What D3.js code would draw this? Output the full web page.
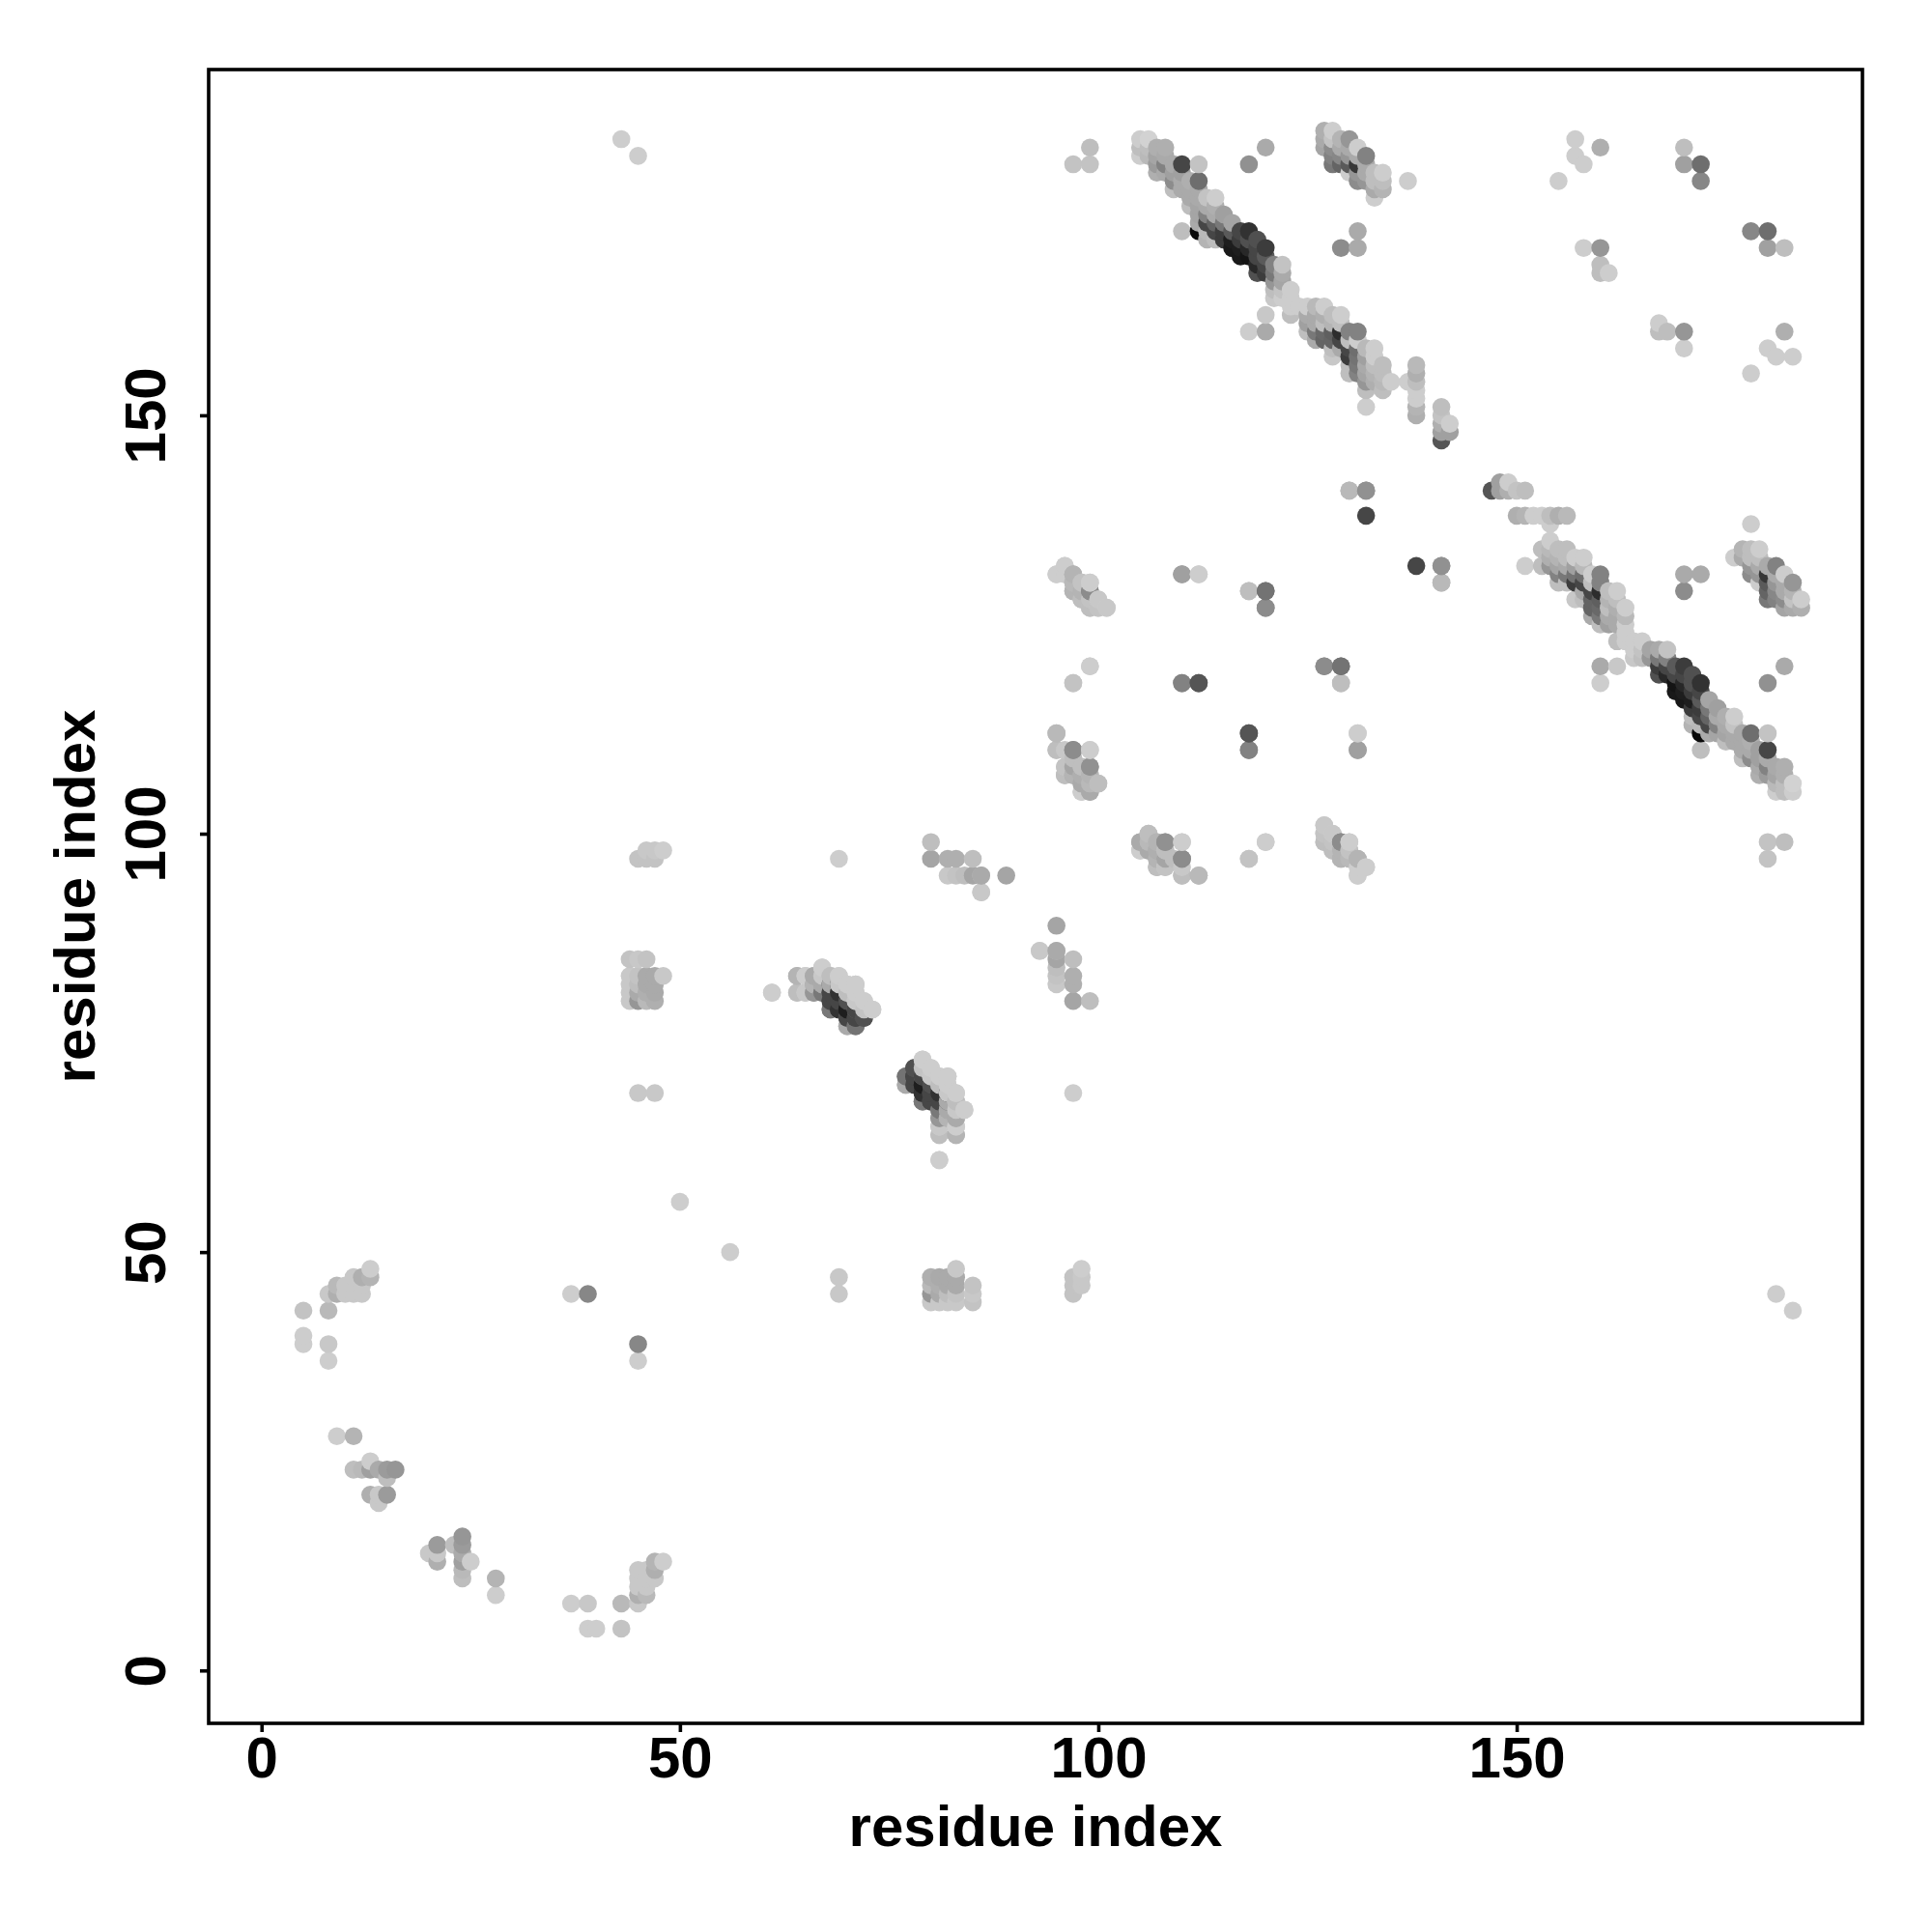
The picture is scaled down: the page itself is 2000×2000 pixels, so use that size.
<!DOCTYPE HTML>
<html>
  <head>
    <meta charset='utf-8'>
    <title>residue contact map</title>
    <script src='https://d3js.org/d3.v7.min.js'></script>
  </head>
  <style>
    body {margin:0; background:white;}
    text {font-family:'Liberation Sans'; font-weight:bold; fill:black;}
  </style>
  <body>
    <svg id='contact_map'></svg>
<script>
  // contacts are [residue i, residue j, grey level], i<j, the map shows both (i,j) and (j,i)
  var turnContacts=[[5,39,205],[5,40,205],[5,43,195],[8,37,205],[8,39,200],[8,43,185],[8,45,200],[9,45,175],[9,46,185],
    [10,45,200],[10,46,200],[11,45,200],[11,46,200],[11,47,200],[12,45,200],[12,46,200],[12,47,175],[13,47,180],[13,48,205],
    [9,28,205],[11,28,180],[11,24,190],[12,24,185],[13,24,160],[13,25,205],[14,24,170],[15,24,155],[16,24,150],[15,23,190],
    [13,21,175],[14,21,200],[14,20,200],[15,21,155],[37,45,205],[39,45,135]];
  var farContacts=[[43,183,205],[45,181,205],[50,56,205],[45,69,200],[47,69,200],[69,97,205],
    [93,86,205],[95,86,190],[85,95,165],[85,97,190],[84,95,190],[83,95,195],[82,95,200],[83,97,175],[82,97,175],
    [80,97,165],[80,99,190],[86,95,170],[86,93,200],[89,95,165]];
  var column45Contacts=[[45,97,195],[46,97,195],[47,97,195],[46,98,200],[47,98,200],[48,98,205],
    [44,85,195],[45,85,200],[46,85,195],[44,83,200],[45,83,195],[46,83,170],[47,83,170],[48,83,200],
    [44,82,200],[45,82,190],[46,82,170],[47,82,170],[44,81,200],[45,81,170],[46,81,175],[47,81,170],
    [44,80,200],[45,80,150],[46,80,185],[47,80,175]];
  var sheetOneContacts=[[61,81,205],[67,84,205],[64,83,180],[65,83,200],[66,83,170],[68,83,190],[69,83,205],
    [64,81,205],[65,81,205],[66,81,165],[66,82,170],[67,82,170],[68,82,90],[69,82,60],[70,82,205],[71,82,205],
    [67,81,150],[68,81,75],[69,81,80],[70,81,200],[71,81,205],[68,80,70],[69,80,70],[70,80,50],[71,80,200],[72,80,205],
    [68,79,130],[69,79,55],[70,79,40],[71,79,110],[72,79,195],[73,79,205],[70,78,120],[71,78,70],[72,78,90],[70,77,170],[71,77,120]];
  var sheetTwoContacts=[[79,73,205],[78,72,80],[80,72,205],[77,71,115],[78,71,70],[79,71,70],[80,71,200],[81,71,205],[82,71,205],
    [77,70,170],[78,70,70],[79,70,30],[80,70,80],[81,70,190],[82,70,205],[79,69,50],[80,69,70],[81,69,50],[82,69,200],[83,69,205],
    [79,68,120],[80,68,70],[81,68,70],[82,68,170],[83,68,190],[81,67,120],[82,67,170],[83,67,200],[84,67,205],
    [81,66,150],[82,66,180],[83,66,170],[81,65,200],[83,65,205],[81,64,190],[83,64,180],[81,61,205]];
  var scatteredContacts=[[110,131,155],[112,131,205],[118,129,185],[120,129,110],[120,127,145],[138,132,70],[141,132,145],[141,130,190],
    [99,120,205],[97,118,195],[110,118,140],[112,118,80],[127,120,140],[129,120,115],[129,118,190],
    [118,112,85],[118,110,130],[131,112,205],[131,110,160],[120,99,205],[118,97,195],
    [99,182,190],[97,180,195],[99,180,195],[120,182,170],[118,180,145],[131,172,170],[131,170,170],[129,170,140],
    [130,141,185],[132,141,145],[110,172,190],[137,178,205],[120,162,200],[118,160,205],[120,160,170],
    [155,178,205],[157,183,205],[157,181,205],[158,180,205],[160,182,175],[158,170,205],[160,170,150],[160,168,190],[160,167,190],[161,167,205],
    [170,182,190],[170,180,160],[172,180,110],[172,178,135],
    [141,147,85],[141,148,160],[142,148,160],[141,149,175],[142,149,205],[141,150,195],[141,151,190],
    [138,150,175],[138,151,180],[138,152,205],[138,153,205],[138,154,190],[138,155,175],[138,156,185]];
  var clusterAContacts=[[96,132,205],[95,131,205],[96,131,205],[97,131,180],[97,130,185],[98,130,190],[99,130,205],
    [97,129,175],[98,129,180],[99,129,130],[98,128,185],[99,128,190],[100,128,205],[99,127,195],[100,127,200],[101,127,205]];
  var clusterBContacts=[[95,112,185],[95,110,195],[96,110,200],[97,110,140],[99,110,205],[96,108,205],[97,108,195],[98,108,190],[99,108,150],
    [96,107,180],[97,107,165],[98,107,175],[99,107,185],[98,106,180],[99,106,175],[100,106,195],[98,105,200],[99,105,175]];
  var clusterCContacts=[[106,100,190],[105,99,170],[106,99,185],[107,99,180],[108,99,145],[110,99,205],[105,98,205],[106,98,170],[107,98,175],[108,98,190],
    [107,97,180],[108,97,165],[109,97,190],[110,97,140],[107,96,190],[108,96,195],[110,95,190],[112,95,185]];
  var clusterDContacts=[[127,101,200],[127,100,195],[128,100,200],[127,99,190],[128,99,195],[129,99,140],[130,99,205],[128,98,190],[130,98,195],
    [129,97,180],[130,97,185],[131,97,180],[132,96,205],[131,95,205]];
  var clusterEContacts=[[127,184,175],[128,184,205],[127,183,170],[128,183,195],[129,183,180],[130,183,150],[127,182,165],[128,182,140],[129,182,170],[130,182,170],[131,182,205],
    [128,181,130],[129,181,135],[130,181,150],[131,181,170],[132,181,130],[128,180,120],[129,180,100],[130,180,90],[131,180,55],[132,180,170],
    [130,179,205],[131,179,150],[132,179,170],[133,179,190],[134,179,205],[131,178,140],[132,178,150],[133,178,190],[134,178,190],[133,177,170],[134,177,180],[133,176,205]];
  var bandUpperContacts=[[105,183,205],[106,183,210],[105,182,190],[106,182,190],[107,182,175],[108,182,175],[105,181,205],[106,181,185],[107,181,165],[108,181,170],
    [107,180,155],[108,180,130],[109,180,170],[110,180,70],[112,180,195],[107,179,175],[108,179,170],[109,179,160],[110,179,160],
    [109,178,140],[110,178,170],[111,178,175],[112,178,110],[109,177,190],[110,177,170],[111,177,170],[112,177,170],
    [111,176,170],[112,176,170],[113,176,195],[114,176,205],[111,175,190],[112,175,165],[113,175,170],[114,175,175],
    [112,174,165],[113,174,130],[114,174,170],[115,174,160],[112,173,170],[113,173,70],[114,173,100],[115,173,120],[116,173,165],
    [112,172,10],[113,172,185],[114,172,70],[115,172,60],[116,172,90],[117,172,70],[118,172,50],
    [113,171,180],[114,171,190],[115,171,60],[116,171,30],[117,171,60],[118,171,80],[119,171,80],
    [116,170,25],[117,170,30],[118,170,40],[119,170,70],[120,170,60],[117,169,25],[118,169,20],[119,169,70],[120,169,90],
    [119,168,40],[120,168,70],[121,168,130],[122,168,195],[119,167,80],[120,167,60],[121,167,120],[122,167,170],
    [121,166,150],[122,166,165],[121,165,190],[122,165,195],[123,165,205],[121,164,200],[122,164,205],[123,164,205],
    [123,163,205],[123,162,190]];
  var bandLowerContacts=[[124,163,205],[125,163,205],[126,163,185],[127,163,205],[125,162,170],[126,162,170],[127,162,175],[128,162,190],[129,162,205],
    [125,161,160],[126,161,170],[127,161,190],[128,161,180],[129,161,190],[125,160,190],[126,160,120],[127,160,105],[128,160,95],[129,160,45],[130,160,130],[131,160,130],
    [126,159,170],[127,159,100],[128,159,100],[129,159,70],[130,159,190],[131,159,205],[128,158,190],[129,158,170],[130,158,70],[131,158,110],[132,158,185],[133,158,205],
    [128,157,200],[130,157,60],[131,157,115],[132,157,160],[133,157,205],[130,156,190],[131,156,120],[132,156,170],[133,156,190],[134,156,190],
    [130,155,190],[131,155,130],[132,155,165],[133,155,180],[134,155,190],[132,154,150],[133,154,175],[134,154,185],[135,154,205],[137,154,205],
    [132,153,190],[134,153,190],[132,151,205]];

  var tickValues=[0,50,100,150];
  var axisLabel='residue index';

  var side=1712, left=216, top_=72;
  var x=d3.scaleLinear().domain([-6.32,191.32]).range([left,left+side]),
      y=d3.scaleLinear().domain([-6.32,191.32]).range([top_+side,top_]);
  var svg=d3.select('#contact_map').attr('width',2000).attr('height',2000);

  var contacts=d3.merge([turnContacts,farContacts,column45Contacts,sheetOneContacts,sheetTwoContacts,scatteredContacts,
    clusterAContacts,clusterBContacts,clusterCContacts,clusterDContacts,clusterEContacts,bandUpperContacts,bandLowerContacts]);
  var points=[];
  contacts.forEach(function(d) {
    points.push({x:d[0],y:d[1],g:d[2]}); points.push({x:d[1],y:d[0],g:d[2]});});
  // later points sit on top: rising x, then rising y
  points.sort(function(a,b) {return a.x-b.x||a.y-b.y;});

  svg.append('g').selectAll('circle').data(points).join('circle')
     .attr('cx',function(d) {return x(d.x);})
     .attr('cy',function(d) {return y(d.y);})
     .attr('r',9.3)
     .attr('fill',function(d) {return d3.rgb(d.g,d.g,d.g);});

  svg.append('rect').attr('x',left).attr('y',top_).attr('width',side).attr('height',side)
     .attr('fill','none').attr('stroke','black').attr('stroke-width',3.6);

  var xAxis=svg.append('g').attr('transform',`translate(0,${top_+side})`)
     .call(d3.axisBottom(x).tickValues(tickValues).tickSize(9).tickSizeOuter(0).tickFormat(d3.format('d')));
  var yAxis=svg.append('g').attr('transform',`translate(${left},0)`)
     .call(d3.axisLeft(y).tickValues(tickValues).tickSize(9).tickSizeOuter(0).tickFormat(d3.format('d')));
  xAxis.select('.domain').remove(); yAxis.select('.domain').remove();
  svg.selectAll('.tick line').attr('stroke','black').attr('stroke-width',3.6);
  xAxis.selectAll('text').attr('font-size',60).attr('y',0).attr('dy',56)
       .attr('font-family','Liberation Sans').attr('font-weight','bold');
  yAxis.selectAll('text').attr('font-size',60)
       .attr('font-family','Liberation Sans').attr('font-weight','bold')
       .attr('text-anchor','middle').attr('dy',0).attr('x',0).attr('y',0)
       .attr('transform',function() {return 'translate(-45,0) rotate(-90)';});

  svg.append('text').text(axisLabel).attr('font-size',60).attr('text-anchor','middle')
     .attr('x',left+side/2).attr('y',1911);
  svg.append('text').text(axisLabel).attr('font-size',60).attr('text-anchor','middle')
     .attr('transform',`translate(98,${top_+side/2}) rotate(-90)`);
</script>
  </body>
</html>
